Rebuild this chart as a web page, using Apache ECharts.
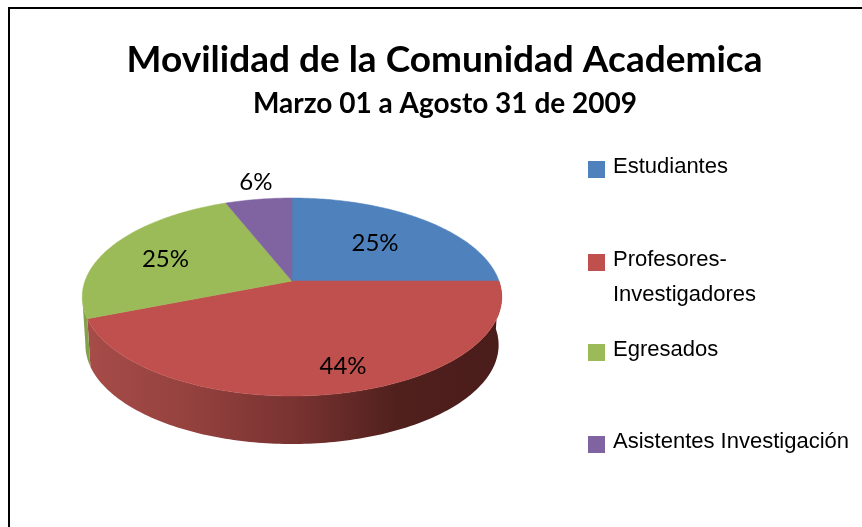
<!DOCTYPE html>
<html><head><meta charset="utf-8">
<style>html,body{margin:0;padding:0;background:#fff}#c{width:862px;height:527px}</style>
<script src="https://cdn.jsdelivr.net/npm/echarts@6/dist/echarts.min.js"></script>
</head><body><div id="c"></div>
<script>
const titleText = 'Movilidad de la Comunidad Academica';
const subtitleText = 'Marzo 01 a Agosto 31 de 2009';
const categories = ['Estudiantes', 'Profesores-Investigadores', 'Egresados', 'Asistentes Investigación'];
const legendLabels = ['Estudiantes', 'Profesores-', 'Egresados', 'Asistentes Investigación'];
const values = [25, 44, 25, 6];
const colors = ['#4f81bd', '#c0504d', '#9bbb59', '#8064a2'];
const wallColors = [null, null, '#84a04c', null];

// Perspective projection of the pie disc
const P = {ax: 292, ay: 281, R: 207, S: 96.4, p: 0.1616, depth: 48, shrink: 0.985};
const visibleWallEnd = 261; // degrees clockwise from top where the silhouette turns away
const labelRadius = [0.63, 0.75, 0.65, 1.2];
const labelNudgeX = [-3, 18, -8, 3];
const labelNudgeY = [2, 5, 2, -3];
const legendCentres = [169.5, 262.5, 352.5, 444.5];

function project(deg, f) {
  const t = deg * Math.PI / 180, u = Math.sin(t) * f, v = -Math.cos(t) * f, d = 1 - P.p * v;
  return [P.ax + P.R * u / d, P.ay + P.S * v / d];
}
const total = values.reduce((a, b) => a + b, 0);
const wallGradient = {type: 'linear', x: 88, y: 0, x2: 500, y2: 0, global: true, colorStops: [
  {offset: 0, color: '#a64c49'}, {offset: .25, color: '#94413e'}, {offset: .5, color: '#793331'},
  {offset: .75, color: '#50201d'}, {offset: 1, color: '#4a1c1a'}]};

function renderSlice(i) {
  return function (params, api) {
    const val = api.value(0);
    let before = 0;
    for (let k = 0; k < i; k++) before += values[k];
    const a0 = before / total * 360, a1 = a0 + val / total * 360;
    const rim = [];
    for (let a = a0; a < a1; a += 1) rim.push(project(a, 1));
    rim.push(project(a1, 1));
    const children = [];
    // side wall: only the part of the rim that faces the viewer
    const w0 = Math.max(a0, 90), w1 = Math.min(a1, visibleWallEnd);
    if (w1 > w0) {
      const top = [];
      for (let a = w0; a < w1; a += 1) top.push(project(a, 1));
      top.push(project(w1, 1));
      const bottom = top.map(p => [P.ax + (p[0] - P.ax) * P.shrink, p[1] + P.depth]).reverse();
      children.push({type: 'polygon', z2: 1, shape: {points: top.concat(bottom)},
        style: {fill: wallColors[i] || wallGradient}});
    }
    children.push({type: 'polygon', z2: 5, shape: {points: [[P.ax, P.ay]].concat(rim)},
      style: {fill: colors[i], stroke: colors[i], lineWidth: 0.5}});
    const mid = project((a0 + a1) / 2, labelRadius[i]);
    children.push({type: 'text', z2: 10, x: mid[0] + labelNudgeX[i], y: mid[1] + labelNudgeY[i], style: {
      text: Math.round(val / total * 100) + '%', fill: '#000',
      font: '24px Lato', align: 'center', verticalAlign: 'middle'}});
    return {type: 'group', children};
  };
}

const series = categories.map((name, i) => ({
  type: 'custom', name, coordinateSystem: 'none', silent: true, animation: false,
  itemStyle: {color: colors[i]}, data: [[values[i]]], renderItem: renderSlice(i)
}));

const legendFont = {fontFamily: 'Liberation Sans', fontSize: 22, color: '#000', rich: {
  a: {fontFamily: 'Liberation Sans', fontSize: 22, color: '#000', padding: [0, 0, 6, 3]}}};
const legends = categories.map((name, i) => ({
  data: [name], left: 588, top: legendCentres[i] - 14, padding: 0, orient: 'vertical',
  icon: 'rect', itemWidth: 17, itemHeight: 17, selectedMode: false,
  formatter: () => '{a|' + legendLabels[i] + '}', textStyle: legendFont
}));

const chart = echarts.init(document.getElementById('c'), null, {renderer: 'canvas'});
chart.setOption({
  backgroundColor: '#fff',
  animation: false,
  title: [
    {text: titleText, left: 439.5, top: 37, textAlign: 'center',
     textStyle: {fontFamily: 'Lato', fontWeight: 'bold', fontSize: 37, color: '#000'}},
    {text: subtitleText, left: 440, top: 85, textAlign: 'center',
     textStyle: {fontFamily: 'Lato', fontWeight: 'bold', fontSize: 28, color: '#000'}}
  ],
  legend: legends,
  graphic: [
    {type: 'rect', silent: true, shape: {x: 9, y: 8, width: 870, height: 540},
     style: {fill: 'none', stroke: '#000', lineWidth: 2}},
    {type: 'text', silent: true, x: 613, y: 295, style: {text: 'Investigadores',
      font: '22px "Liberation Sans"', fill: '#000', verticalAlign: 'middle'}}
  ],
  series
});
</script></body></html>
